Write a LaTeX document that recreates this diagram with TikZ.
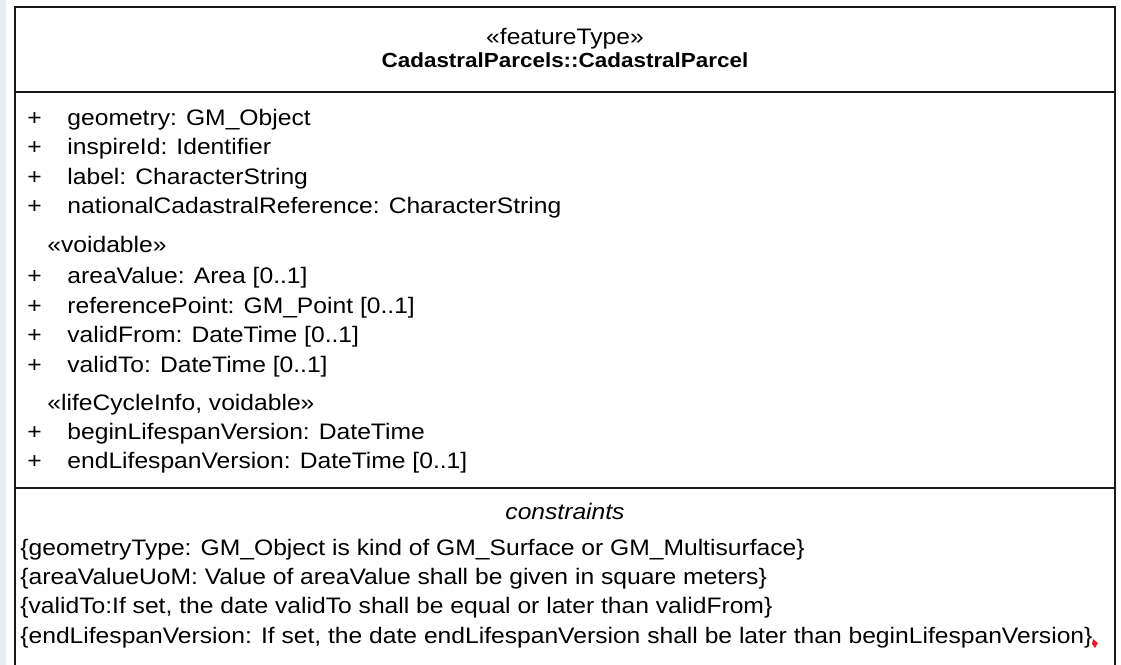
\documentclass[tikz,border=0pt]{standalone}
\usepackage{fontspec}
\setmainfont{Liberation Sans}[FakeStretch=1.1]
\usepackage{tikz}
\usetikzlibrary{positioning}

\begin{document}
\begin{tikzpicture}[x=0.5pt, y=-0.5pt,
  txt/.style={inner sep=0pt, text=black, font=\fontsize{11.2}{13}\selectfont},
  attr/.style={txt, anchor=base west},
  vis/.style={txt, anchor=base west},
  hdr/.style={txt, anchor=base},
  title/.style={inner sep=0pt, anchor=base, font=\fontsize{10.2}{12}\selectfont\bfseries}]
\definecolor{umlline}{RGB}{25,25,25}
\definecolor{sidebar}{RGB}{232,236,244}
\definecolor{squiggle}{RGB}{230,30,40}

\useasboundingbox (0,0) rectangle (1121,665);
\clip (0,0) rectangle (1121,665);
\fill[white] (0,0) rectangle (1121,665);
\fill[sidebar] (0,0) rectangle (6,665);

% ---- CLASS BOX ----
\draw[umlline, line width=1.1pt] (15,700) -- (15,7) -- (1115,7) -- (1115,700);
\draw[umlline, line width=1.1pt] (15,92) -- (1115,92);
\draw[umlline, line width=1.1pt] (15,488) -- (1115,488);

% ---- HEADER ----
\node[hdr] (stereo) at (565,44) {«featureType»};
\node[title] (clsname) at (565,67) {CadastralParcels::CadastralParcel};

% ---- ATTRIBUTES ----
\node[vis] (pGeometry) at (27,125) {+};
\node[attr] (aGeometry) at (67,125) {geometry: GM\_Object};
\node[vis] (pInspire) at (27,154) {+};
\node[attr] (aInspire) at (67,154) {inspireId: Identifier};
\node[vis] (pLabel) at (27,184) {+};
\node[attr] (aLabel) at (67,184) {label: CharacterString};
\node[vis] (pNational) at (27,213) {+};
\node[attr] (aNational) at (67,213) {nationalCadastralReference: CharacterString};

% voidable group
\node[attr] (sVoidable) at (47,252) {«voidable»};
\node[vis] (pArea) at (27,283) {+};
\node[attr] (aArea) at (67,283) {areaValue: Area [0..1]};
\node[vis] (pRefPoint) at (27,313) {+};
\node[attr] (aRefPoint) at (67,313) {referencePoint: GM\_Point [0..1]};
\node[vis] (pValidFrom) at (27,342) {+};
\node[attr] (aValidFrom) at (67,342) {validFrom: DateTime [0..1]};
\node[vis] (pValidTo) at (27,372) {+};
\node[attr] (aValidTo) at (67,372) {validTo: DateTime [0..1]};

% lifeCycleInfo group
\node[attr] (sLifeCycle) at (47,410) {«lifeCycleInfo, voidable»};
\node[vis] (pBegin) at (27,439) {+};
\node[attr] (aBegin) at (67,439) {beginLifespanVersion: DateTime};
\node[vis] (pEnd) at (27,468) {+};
\node[attr] (aEnd) at (67,468) {endLifespanVersion: DateTime [0..1]};

% ---- CONSTRAINTS ----
\node[hdr, font=\fontsize{11.2}{13}\selectfont\itshape] (cHead) at (565,519) {constraints};
\node[attr] (cGeomType) at (20,555) {\{geometryType: GM\_Object is kind of GM\_Surface or GM\_Multisurface\}};
\node[attr] (cAreaUoM) at (20,584) {\{areaValueUoM: Value of areaValue shall be given in square meters\}};
\node[attr] (cValidTo) at (20,613) {\{validTo:If set, the date validTo shall be equal or later than validFrom\}};
\node[attr] (cEndLife) at (20,643) {\{endLifespanVersion: If set, the date endLifespanVersion shall be later than beginLifespanVersion\}};

% small red mark on the last brace
\fill[squiggle] (1093,639) -- (1098,643) -- (1095,648) -- (1092,644) -- cycle;

\end{tikzpicture}
\end{document}
